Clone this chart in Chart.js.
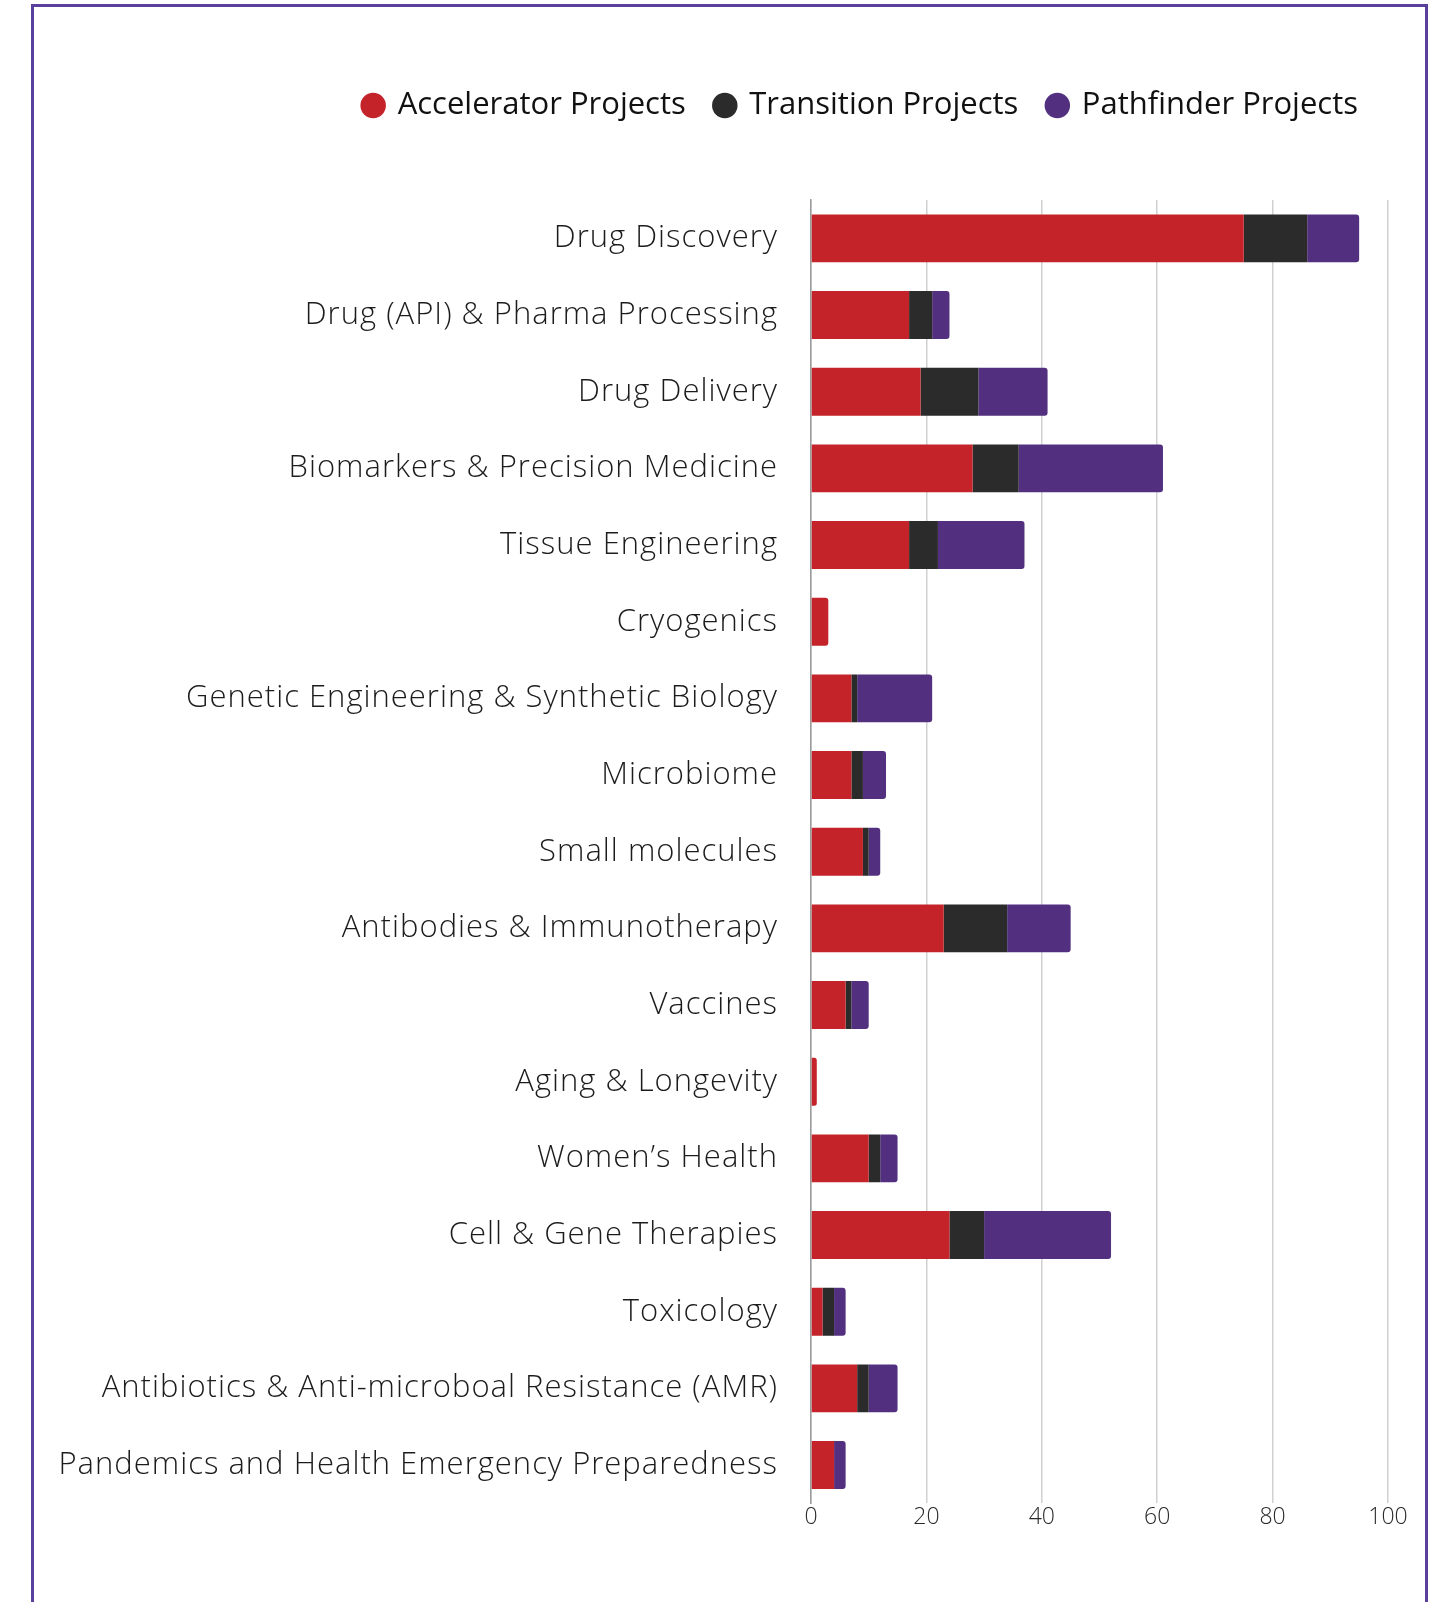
<!DOCTYPE html>
<html>
<head>
<meta charset="utf-8">
<script src="https://cdn.jsdelivr.net/npm/chart.js@4.4.1/dist/chart.umd.min.js"></script>
<style>
  html, body { margin: 0; padding: 0; background: #fff; }
  body { width: 1445px; height: 1602px; position: relative; overflow: hidden; }
  .frame {
    position: absolute; left: 31px; top: 4px; width: 1391px; height: 1600px;
    border: 3px solid #5a3f9c; border-bottom: none;
  }
  .frame canvas { display: block; }
</style>
</head>
<body>
<div class="frame">
  <canvas id="projectsChart" width="1391" height="1598"></canvas>
</div>
<script>
// Categories, top to bottom
const categories = [
    "Drug Discovery",
    "Drug (API) & Pharma Processing",
    "Drug Delivery",
    "Biomarkers & Precision Medicine",
    "Tissue Engineering",
    "Cryogenics",
    "Genetic Engineering & Synthetic Biology",
    "Microbiome",
    "Small molecules",
    "Antibodies & Immunotherapy",
    "Vaccines",
    "Aging & Longevity",
    "Women\u2019s Health",
    "Cell & Gene Therapies",
    "Toxicology",
    "Antibiotics & Anti-microboal Resistance (AMR)",
    "Pandemics and Health Emergency Preparedness"
];

// Number of projects per category
const acceleratorProjects = [75, 17, 19, 28, 17, 3, 7, 7, 9, 23, 6, 1, 10, 24, 2, 8, 4];
const transitionProjects  = [11, 4, 10, 8, 5, 0, 1, 2, 1, 11, 1, 0, 2, 6, 2, 2, 0];
const pathfinderProjects  = [9, 3, 12, 25, 15, 0, 13, 4, 2, 11, 3, 0, 3, 22, 2, 5, 2];

// x axis ticks
const xTicks = [0, 20, 40, 60, 80, 100];

const fontFamily = "'Open Sans', Lato, sans-serif";

// push the plot area down below the legend
const legendGap = {
    id: 'legendGap',
    beforeInit(chart) {
        const fit = chart.legend.fit;
        chart.legend.fit = function () {
            fit.bind(chart.legend)();
            this.height += 69;
        };
    }
};

// fixed width for the category axis, and a little letter spacing on its labels
function fitCategoryAxis(scale) {
    scale.width = 777;
    if (!scale._spaced) {
        const drawLabels = scale.drawLabels;
        scale.drawLabels = function (area) {
            this.ctx.save();
            this.ctx.letterSpacing = '1px';
            drawLabels.call(this, area);
            this.ctx.restore();
        };
        scale._spaced = true;
    }
}

new Chart(document.getElementById('projectsChart').getContext('2d'), {
    type: 'bar',
    data: {
        labels: categories,
        datasets: [
            { label: 'Accelerator Projects', data: acceleratorProjects, backgroundColor: '#c4232a' },
            { label: 'Transition Projects', data: transitionProjects, backgroundColor: '#2b2b2b' },
            { label: 'Pathfinder Projects', data: pathfinderProjects, backgroundColor: '#52307f' }
        ]
    },
    options: {
        indexAxis: 'y',
        responsive: false,
        animation: false,
        devicePixelRatio: 1,
        barPercentage: 0.625,
        categoryPercentage: 1,
        layout: { padding: { top: 53, right: 37, bottom: 74, left: 0 } },
        datasets: {
            bar: { borderRadius: 3, borderSkipped: 'start' }
        },
        scales: {
            x: {
                stacked: true,
                min: 0,
                max: 100,
                afterBuildTicks: scale => { scale.ticks = xTicks.map(v => ({ value: v })); },
                grid: { color: '#d0d0d0', lineWidth: 1.5, drawTicks: false },
                border: { display: false },
                ticks: {
                    padding: 0,
                    color: '#2a2a2a',
                    font: { family: fontFamily, size: 23, weight: 300 }
                }
            },
            y: {
                stacked: true,
                afterFit: fitCategoryAxis,
                grid: { display: false, drawTicks: false },
                border: { display: true, color: '#9a9a9a', width: 1.5 },
                ticks: {
                    padding: 33,
                    color: '#1c1c1c',
                    font: { family: fontFamily, size: 31, weight: 300 }
                }
            }
        },
        plugins: {
            tooltip: { enabled: false },
            legend: {
                position: 'top',
                align: 'end',
                labels: {
                    usePointStyle: true,
                    pointStyle: 'circle',
                    boxWidth: 18,
                    boxHeight: 18,
                    padding: 30,
                    color: '#111',
                    font: { family: fontFamily, size: 31, weight: 400 }
                }
            }
        }
    },
    plugins: [legendGap]
});
</script>
</body>
</html>
